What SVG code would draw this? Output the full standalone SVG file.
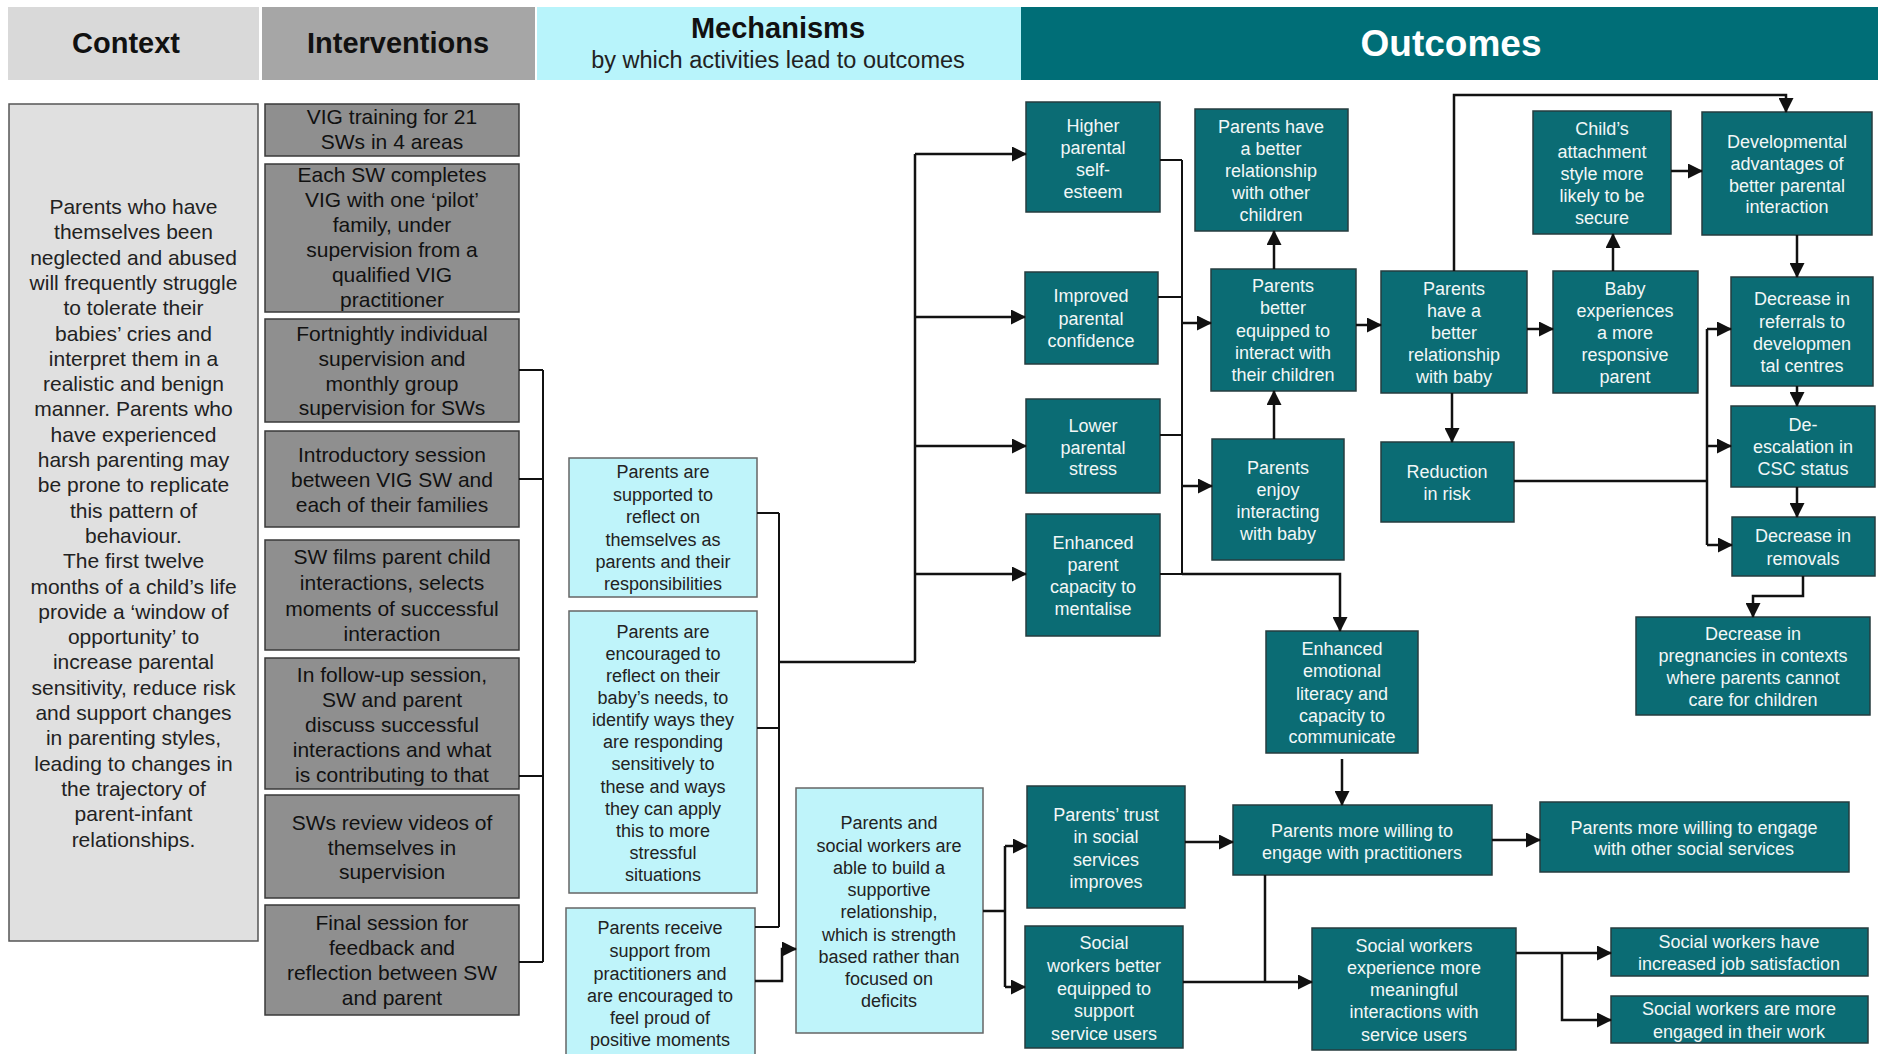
<svg xmlns="http://www.w3.org/2000/svg" width="1878" height="1054" viewBox="0 0 1878 1054">
<style>
text{font-family:"Liberation Sans",Arial,sans-serif;text-anchor:middle}
.hd{font-size:29px;font-weight:bold;fill:#111}
.ctx{fill:#e0e0e0;stroke:#555;stroke-width:1.5}
.ctxt{font-size:21px;fill:#222}
.iv{fill:#8f8f8f;stroke:#3a3a3a;stroke-width:1.5}
.ivt{font-size:21px;fill:#111}
.mc{fill:#bff4fa;stroke:#666;stroke-width:1.5}
.mct{font-size:18px;fill:#222}
.oc{fill:#0b6c74;stroke:#263d3f;stroke-width:1.5}
.oct{font-size:18px;fill:#f2f7f7}
.ln{fill:none;stroke:#111;stroke-width:2.5}
.br{fill:none;stroke:#111;stroke-width:2}
.ar{fill:none;stroke:#111;stroke-width:2.5;marker-end:url(#ah)}
</style>
<defs>
<marker id="ah" markerWidth="15" markerHeight="15" refX="14" refY="7.5" orient="auto" markerUnits="userSpaceOnUse"><path d="M0,0 L15,7.5 L0,15 z" fill="#111"/></marker>
</defs>
<rect width="1878" height="1054" fill="#fff"/>

<g id="headers">
<g id="h-context"><rect x="8" y="7" width="251" height="73" fill="#d9d9d9"/><text class="hd" x="126" y="53">Context</text></g>
<g id="h-interventions"><rect x="262" y="7" width="273" height="73" fill="#a6a6a6"/><text class="hd" x="398" y="53">Interventions</text></g>
<g id="h-mechanisms"><rect x="537" y="7" width="484" height="73" fill="#b8f4fb"/><text class="hd" x="778" y="38">Mechanisms</text><text x="778" y="68" style="font-size:23.5px;fill:#222">by which activities lead to outcomes</text></g>
<g id="h-outcomes"><rect x="1021" y="7" width="857" height="73" fill="#006e77"/><text x="1451" y="56" style="font-size:37px;font-weight:bold;fill:#fff">Outcomes</text></g>
</g>

<g id="context"><rect class="ctx" x="9" y="104" width="249" height="837"/>
<text class="ctxt"><tspan x="133.5" y="214">Parents who have</tspan><tspan x="133.5" y="239.3">themselves been</tspan><tspan x="133.5" y="264.6">neglected and abused</tspan><tspan x="133.5" y="289.9">will frequently struggle</tspan><tspan x="133.5" y="315.2">to tolerate their</tspan><tspan x="133.5" y="340.5">babies’ cries and</tspan><tspan x="133.5" y="365.8">interpret them in a</tspan><tspan x="133.5" y="391.1">realistic and benign</tspan><tspan x="133.5" y="416.4">manner. Parents who</tspan><tspan x="133.5" y="441.7">have experienced</tspan><tspan x="133.5" y="467">harsh parenting may</tspan><tspan x="133.5" y="492.3">be prone to replicate</tspan><tspan x="133.5" y="517.6">this pattern of</tspan><tspan x="133.5" y="542.9">behaviour.</tspan><tspan x="133.5" y="568.2">The first twelve</tspan><tspan x="133.5" y="593.5">months of a child’s life</tspan><tspan x="133.5" y="618.8">provide a ‘window of</tspan><tspan x="133.5" y="644.1">opportunity’ to</tspan><tspan x="133.5" y="669.4">increase parental</tspan><tspan x="133.5" y="694.7">sensitivity, reduce risk</tspan><tspan x="133.5" y="720">and support changes</tspan><tspan x="133.5" y="745.3">in parenting styles,</tspan><tspan x="133.5" y="770.6">leading to changes in</tspan><tspan x="133.5" y="795.9">the trajectory of</tspan><tspan x="133.5" y="821.2">parent-infant</tspan><tspan x="133.5" y="846.5">relationships.</tspan></text>
</g>

<g id="i1"><rect class="iv" x="265" y="104" width="254" height="52"/><text class="ivt"><tspan x="392" y="124">VIG training for 21</tspan><tspan x="392" y="149">SWs in 4 areas</tspan></text></g>
<g id="i2"><rect class="iv" x="265" y="164" width="254" height="148"/><text class="ivt"><tspan x="392" y="182">Each SW completes</tspan><tspan x="392" y="207">VIG with one ‘pilot’</tspan><tspan x="392" y="232">family, under</tspan><tspan x="392" y="257">supervision from a</tspan><tspan x="392" y="282">qualified VIG</tspan><tspan x="392" y="307">practitioner</tspan></text></g>
<g id="i3"><rect class="iv" x="265" y="319" width="254" height="103"/><text class="ivt"><tspan x="392" y="341">Fortnightly individual</tspan><tspan x="392" y="366">supervision and</tspan><tspan x="392" y="391">monthly group</tspan><tspan x="392" y="415">supervision for SWs</tspan></text></g>
<g id="i4"><rect class="iv" x="265" y="431" width="254" height="96"/><text class="ivt"><tspan x="392" y="462">Introductory session</tspan><tspan x="392" y="487">between VIG SW and</tspan><tspan x="392" y="512">each of their families</tspan></text></g>
<g id="i5"><rect class="iv" x="265" y="540" width="254" height="110"/><text class="ivt"><tspan x="392" y="564">SW films parent child</tspan><tspan x="392" y="590">interactions, selects</tspan><tspan x="392" y="616">moments of successful</tspan><tspan x="392" y="641">interaction</tspan></text></g>
<g id="i6"><rect class="iv" x="265" y="658" width="254" height="131"/><text class="ivt"><tspan x="392" y="682">In follow-up session,</tspan><tspan x="392" y="707">SW and parent</tspan><tspan x="392" y="732">discuss successful</tspan><tspan x="392" y="757">interactions and what</tspan><tspan x="392" y="782">is contributing to that</tspan></text></g>
<g id="i7"><rect class="iv" x="265" y="795" width="254" height="103"/><text class="ivt"><tspan x="392" y="830">SWs review videos of</tspan><tspan x="392" y="855">themselves in</tspan><tspan x="392" y="879">supervision</tspan></text></g>
<g id="i8"><rect class="iv" x="265" y="905" width="254" height="110"/><text class="ivt"><tspan x="392" y="930">Final session for</tspan><tspan x="392" y="955">feedback and</tspan><tspan x="392" y="980">reflection between SW</tspan><tspan x="392" y="1005">and parent</tspan></text></g>

<g id="m1"><rect class="mc" x="569" y="458" width="188" height="139"/><text class="mct"><tspan x="663" y="478">Parents are</tspan><tspan x="663" y="501">supported to</tspan><tspan x="663" y="523">reflect on</tspan><tspan x="663" y="546">themselves as</tspan><tspan x="663" y="568">parents and their</tspan><tspan x="663" y="590">responsibilities</tspan></text></g>
<g id="m2"><rect class="mc" x="569" y="611" width="188" height="282"/><text class="mct"><tspan x="663" y="638">Parents are</tspan><tspan x="663" y="660">encouraged to</tspan><tspan x="663" y="682">reflect on their</tspan><tspan x="663" y="704">baby’s needs, to</tspan><tspan x="663" y="726">identify ways they</tspan><tspan x="663" y="748">are responding</tspan><tspan x="663" y="770">sensitively to</tspan><tspan x="663" y="793">these and ways</tspan><tspan x="663" y="815">they can apply</tspan><tspan x="663" y="837">this to more</tspan><tspan x="663" y="859">stressful</tspan><tspan x="663" y="881">situations</tspan></text></g>
<g id="m3"><rect class="mc" x="566" y="908" width="189" height="150"/><text class="mct"><tspan x="660" y="934">Parents receive</tspan><tspan x="660" y="957">support from</tspan><tspan x="660" y="980">practitioners and</tspan><tspan x="660" y="1002">are encouraged to</tspan><tspan x="660" y="1024">feel proud of</tspan><tspan x="660" y="1046">positive moments</tspan></text></g>
<g id="m4"><rect class="mc" x="796" y="788" width="187" height="245"/><text class="mct"><tspan x="889" y="829">Parents and</tspan><tspan x="889" y="852">social workers are</tspan><tspan x="889" y="874">able to build a</tspan><tspan x="889" y="896">supportive</tspan><tspan x="889" y="918">relationship,</tspan><tspan x="889" y="941">which is strength</tspan><tspan x="889" y="963">based rather than</tspan><tspan x="889" y="985">focused on</tspan><tspan x="889" y="1007">deficits</tspan></text></g>

<g id="o1"><rect class="oc" x="1026" y="102" width="134" height="110"/><text class="oct"><tspan x="1093" y="132">Higher</tspan><tspan x="1093" y="154">parental</tspan><tspan x="1093" y="176">self-</tspan><tspan x="1093" y="198">esteem</tspan></text></g>
<g id="o2"><rect class="oc" x="1195" y="109" width="153" height="122"/><text class="oct"><tspan x="1271" y="133">Parents have</tspan><tspan x="1271" y="155">a better</tspan><tspan x="1271" y="177">relationship</tspan><tspan x="1271" y="199">with other</tspan><tspan x="1271" y="221">children</tspan></text></g>
<g id="o3"><rect class="oc" x="1533" y="111" width="138" height="123"/><text class="oct"><tspan x="1602" y="135">Child’s</tspan><tspan x="1602" y="158">attachment</tspan><tspan x="1602" y="180">style more</tspan><tspan x="1602" y="202">likely to be</tspan><tspan x="1602" y="224">secure</tspan></text></g>
<g id="o4"><rect class="oc" x="1702" y="112" width="170" height="123"/><text class="oct"><tspan x="1787" y="148">Developmental</tspan><tspan x="1787" y="170">advantages of</tspan><tspan x="1787" y="192">better parental</tspan><tspan x="1787" y="213">interaction</tspan></text></g>
<g id="o5"><rect class="oc" x="1025" y="272" width="133" height="92"/><text class="oct"><tspan x="1091" y="302">Improved</tspan><tspan x="1091" y="325">parental</tspan><tspan x="1091" y="347">confidence</tspan></text></g>
<g id="o6"><rect class="oc" x="1211" y="269" width="145" height="122"/><text class="oct"><tspan x="1283" y="292">Parents</tspan><tspan x="1283" y="314">better</tspan><tspan x="1283" y="337">equipped to</tspan><tspan x="1283" y="359">interact with</tspan><tspan x="1283" y="381">their children</tspan></text></g>
<g id="o7"><rect class="oc" x="1381" y="271" width="146" height="122"/><text class="oct"><tspan x="1454" y="295">Parents</tspan><tspan x="1454" y="317">have a</tspan><tspan x="1454" y="339">better</tspan><tspan x="1454" y="361">relationship</tspan><tspan x="1454" y="383">with baby</tspan></text></g>
<g id="o8"><rect class="oc" x="1553" y="271" width="145" height="122"/><text class="oct"><tspan x="1625" y="295">Baby</tspan><tspan x="1625" y="317">experiences</tspan><tspan x="1625" y="339">a more</tspan><tspan x="1625" y="361">responsive</tspan><tspan x="1625" y="383">parent</tspan></text></g>
<g id="o9"><rect class="oc" x="1731" y="277" width="142" height="109"/><text class="oct"><tspan x="1802" y="305">Decrease in</tspan><tspan x="1802" y="328">referrals to</tspan><tspan x="1802" y="350">developmen</tspan><tspan x="1802" y="372">tal centres</tspan></text></g>
<g id="o10"><rect class="oc" x="1026" y="399" width="134" height="94"/><text class="oct"><tspan x="1093" y="432">Lower</tspan><tspan x="1093" y="454">parental</tspan><tspan x="1093" y="475">stress</tspan></text></g>
<g id="o11"><rect class="oc" x="1212" y="439" width="132" height="121"/><text class="oct"><tspan x="1278" y="474">Parents</tspan><tspan x="1278" y="496">enjoy</tspan><tspan x="1278" y="518">interacting</tspan><tspan x="1278" y="540">with baby</tspan></text></g>
<g id="o12"><rect class="oc" x="1381" y="442" width="133" height="80"/><text class="oct"><tspan x="1447" y="478">Reduction</tspan><tspan x="1447" y="500">in risk</tspan></text></g>
<g id="o13"><rect class="oc" x="1731" y="406" width="144" height="81"/><text class="oct"><tspan x="1803" y="431">De-</tspan><tspan x="1803" y="453">escalation in</tspan><tspan x="1803" y="475">CSC status</tspan></text></g>
<g id="o14"><rect class="oc" x="1732" y="517" width="143" height="59"/><text class="oct"><tspan x="1803" y="542">Decrease in</tspan><tspan x="1803" y="565">removals</tspan></text></g>
<g id="o15"><rect class="oc" x="1026" y="514" width="134" height="122"/><text class="oct"><tspan x="1093" y="549">Enhanced</tspan><tspan x="1093" y="571">parent</tspan><tspan x="1093" y="593">capacity to</tspan><tspan x="1093" y="615">mentalise</tspan></text></g>
<g id="o16"><rect class="oc" x="1266" y="631" width="152" height="122"/><text class="oct"><tspan x="1342" y="655">Enhanced</tspan><tspan x="1342" y="677">emotional</tspan><tspan x="1342" y="700">literacy and</tspan><tspan x="1342" y="722">capacity to</tspan><tspan x="1342" y="743">communicate</tspan></text></g>
<g id="o17"><rect class="oc" x="1636" y="617" width="234" height="98"/><text class="oct"><tspan x="1753" y="640">Decrease in</tspan><tspan x="1753" y="662">pregnancies in contexts</tspan><tspan x="1753" y="684">where parents cannot</tspan><tspan x="1753" y="706">care for children</tspan></text></g>
<g id="o18"><rect class="oc" x="1027" y="786" width="158" height="122"/><text class="oct"><tspan x="1106" y="821">Parents’ trust</tspan><tspan x="1106" y="843">in social</tspan><tspan x="1106" y="866">services</tspan><tspan x="1106" y="888">improves</tspan></text></g>
<g id="o19"><rect class="oc" x="1233" y="805" width="259" height="70"/><text class="oct"><tspan x="1362" y="837">Parents more willing to</tspan><tspan x="1362" y="859">engage with practitioners</tspan></text></g>
<g id="o20"><rect class="oc" x="1540" y="802" width="309" height="70"/><text class="oct"><tspan x="1694" y="834">Parents more willing to engage</tspan><tspan x="1694" y="855">with other social services</tspan></text></g>
<g id="o21"><rect class="oc" x="1025" y="926" width="158" height="122"/><text class="oct"><tspan x="1104" y="949">Social</tspan><tspan x="1104" y="972">workers better</tspan><tspan x="1104" y="995">equipped to</tspan><tspan x="1104" y="1017">support</tspan><tspan x="1104" y="1040">service users</tspan></text></g>
<g id="o22"><rect class="oc" x="1312" y="928" width="204" height="122"/><text class="oct"><tspan x="1414" y="952">Social workers</tspan><tspan x="1414" y="974">experience more</tspan><tspan x="1414" y="996">meaningful</tspan><tspan x="1414" y="1018">interactions with</tspan><tspan x="1414" y="1041">service users</tspan></text></g>
<g id="o23"><rect class="oc" x="1611" y="928" width="257" height="48"/><text class="oct"><tspan x="1739" y="948">Social workers have</tspan><tspan x="1739" y="970">increased job satisfaction</tspan></text></g>
<g id="o24"><rect class="oc" x="1611" y="996" width="257" height="47"/><text class="oct"><tspan x="1739" y="1015">Social workers are more</tspan><tspan x="1739" y="1038">engaged in their work</tspan></text></g>

<g id="connectors">
<path class="br" d="M519 370 H543 M519 479 H543 M519 776 H543 M519 962 H543 M543 370 V962"/>
<path class="br" d="M757 513 H779 M757 728 H779 M755 927 H779 M779 513 V927"/>
<path class="ln" d="M779 662 H915 M915 154 V662"/>
<path class="ar" d="M915 154 H1026"/>
<path class="ar" d="M915 317 H1025"/>
<path class="ar" d="M915 446 H1026"/>
<path class="ar" d="M915 574 H1026"/>
<path class="ar" d="M755 981 H782 V949 H796"/>
<path class="ln" d="M983 911 H1005 M1005 846 V987"/>
<path class="ar" d="M1005 846 H1027"/>
<path class="ar" d="M1005 987 H1025"/>
<path class="br" d="M1160 160 H1182 M1158 297 H1182 M1160 435 H1182 M1160 574 H1182 M1182 160 V574"/>
<path class="ar" d="M1182 323 H1211"/>
<path class="ar" d="M1182 486 H1212"/>
<path class="ar" d="M1182 574 H1340 V631"/>
<path class="ar" d="M1274 439 V391"/>
<path class="ar" d="M1274 269 V231"/>
<path class="ar" d="M1356 325 H1381"/>
<path class="ar" d="M1527 329 H1553"/>
<path class="ar" d="M1613 271 V234"/>
<path class="ar" d="M1671 171 H1702"/>
<path class="ar" d="M1454 271 V95 H1786 V112"/>
<path class="ar" d="M1797 235 V277"/>
<path class="ar" d="M1797 386 V406"/>
<path class="ar" d="M1797 487 V517"/>
<path class="ar" d="M1452 393 V442"/>
<path class="ln" d="M1514 481 H1707 M1707 329 V545"/>
<path class="ar" d="M1707 329 H1731"/>
<path class="ar" d="M1707 446 H1731"/>
<path class="ar" d="M1707 545 H1732"/>
<path class="ar" d="M1803 576 V596 H1753 V617"/>
<path class="ar" d="M1342 759 V805"/>
<path class="ar" d="M1185 842 H1233"/>
<path class="ar" d="M1492 840 H1540"/>
<path class="ar" d="M1183 982 H1312"/>
<path class="ln" d="M1265 875 V982"/>
<path class="ar" d="M1516 953 H1611"/>
<path class="ar" d="M1562 953 V1020 H1611"/>
</g>
</svg>
